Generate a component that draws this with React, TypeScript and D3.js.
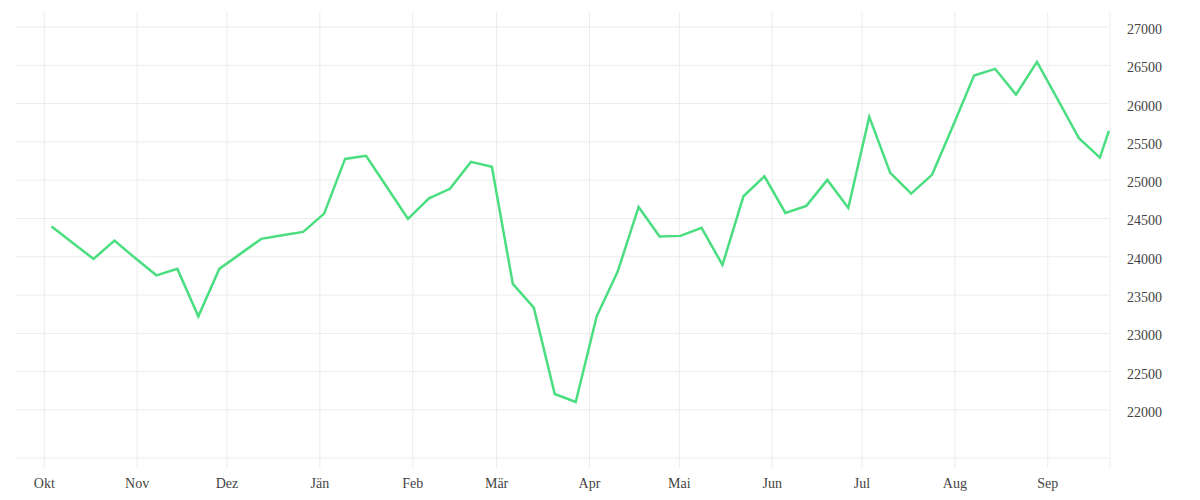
import * as d3 from 'd3';
import React from 'react';

// weekly closes, plus the last day shown
const dates = [
  '2022-10-03', '2022-10-10', '2022-10-17', '2022-10-24', '2022-10-31',
  '2022-11-07', '2022-11-14', '2022-11-21', '2022-11-28',
  '2022-12-05', '2022-12-12', '2022-12-19', '2022-12-26',
  '2023-01-02', '2023-01-09', '2023-01-16', '2023-01-23', '2023-01-30',
  '2023-02-06', '2023-02-13', '2023-02-20', '2023-02-27',
  '2023-03-06', '2023-03-13', '2023-03-20', '2023-03-27',
  '2023-04-03', '2023-04-10', '2023-04-17', '2023-04-24',
  '2023-05-01', '2023-05-08', '2023-05-15', '2023-05-22', '2023-05-29',
  '2023-06-05', '2023-06-12', '2023-06-19', '2023-06-26',
  '2023-07-03', '2023-07-10', '2023-07-17', '2023-07-24', '2023-07-31',
  '2023-08-07', '2023-08-14', '2023-08-21', '2023-08-28',
  '2023-09-04', '2023-09-11', '2023-09-18', '2023-09-21',
];

const values = [
  24394, 24183, 23972, 24211, 23980,
  23758, 23842, 23223, 23842,
  24038, 24234, 24281, 24325,
  24564, 25278, 25318, 24908, 24495,
  24764, 24887, 25239, 25174,
  23646, 23336, 22209, 22104,
  23223, 23806, 24651, 24264,
  24273, 24377, 23894, 24790, 25051,
  24573, 24665, 25004, 24638,
  25827, 25096, 24825, 25073, 25713,
  26366, 26454, 26118, 26545,
  26049, 25548, 25295, 25644,
];

const monthLabels = ['Jän', 'Feb', 'Mär', 'Apr', 'Mai', 'Jun', 'Jul', 'Aug', 'Sep', 'Okt', 'Nov', 'Dez'];
const yTickValues = [22000, 22500, 23000, 23500, 24000, 24500, 25000, 25500, 26000, 26500, 27000];
const xDomain = ['2022-09-21T05:00', '2023-09-21T19:00'];
const yDomain = [21373, 27196];

const W = 1200;
const H = 500;
const margin = { top: 12, right: 90, bottom: 42, left: 15 };
const FONT = '"Liberation Serif", serif';

export default function App() {
  const parse = d3.timeParse('%Y-%m-%d');
  const points = dates.map((d, i) => ({ t: d3.timeHour.offset(parse(d) as Date, 10), v: values[i] }));

  const x = d3
    .scaleTime()
    .domain(xDomain.map((s) => new Date(s)))
    .range([margin.left, W - margin.right]);
  const y = d3
    .scaleLinear()
    .domain(yDomain)
    .range([H - margin.bottom, margin.top]);

  const line = d3
    .line<{ t: Date; v: number }>()
    .x((d) => x(d.t))
    .y((d) => y(d.v));

  const months = x.ticks(d3.timeMonth.every(1) as any).filter((d) => x(d) > margin.left + 5);
  const x0 = margin.left;
  const x1 = W - margin.right;
  const yBottom = H - margin.bottom;
  const grid = '#ececec';

  return (
    <svg width={W} height={H} style={{ position: 'absolute', left: 0, top: 0 }} fontFamily={FONT}>
      <rect width={W} height={H} fill="#fff" />
      {yTickValues.map((v) => (
        <line key={'h' + v} x1={x0} x2={x1} y1={y(v)} y2={y(v)} stroke={grid} />
      ))}
      <line x1={x0} x2={x1} y1={yBottom} y2={yBottom} stroke={grid} />
      {months.map((m) => (
        <line key={'v' + m.getTime()} x1={x(m)} x2={x(m)} y1={margin.top} y2={yBottom + 10} stroke={grid} />
      ))}
      <line x1={x1} x2={x1} y1={margin.top} y2={yBottom + 10} stroke={grid} />

      <path d={line(points) || ''} fill="none" stroke="#4ade80" strokeWidth={2.5} />

      {months.map((m) => (
        <text key={'l' + m.getTime()} x={x(m)} y={yBottom + 30} textAnchor="middle" fontSize={14} fill="#444">
          {monthLabels[m.getMonth()]}
        </text>
      ))}
      {yTickValues.map((v) => (
        <text key={'t' + v} x={x1 + 17} y={y(v) + 7} fontSize={14} fill="#444">
          {v}
        </text>
      ))}
    </svg>
  );
}
